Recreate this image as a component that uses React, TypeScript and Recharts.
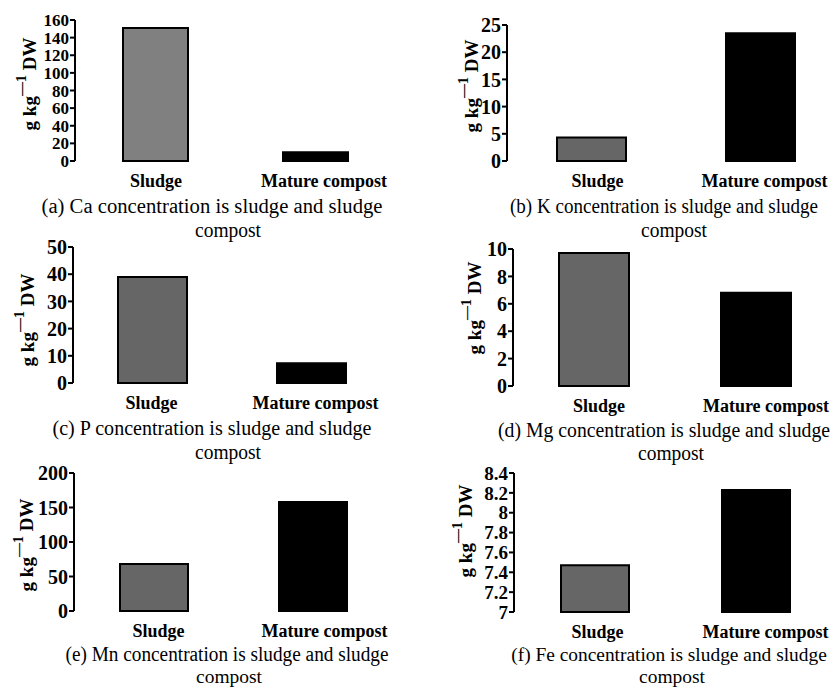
import React from 'react';
import { BarChart, Bar, XAxis, YAxis, Cell } from 'recharts';

const categories = ['Sludge', 'Mature compost'];

const caValues = [151, 10];
const kValues = [4.3, 23.5];
const pValues = [39, 7.3];
const mgValues = [9.7, 6.8];
const mnValues = [68, 158];
const feValues = [7.47, 8.23];

const caTicks = [0, 20, 40, 60, 80, 100, 120, 140, 160];
const kTicks = [0, 5, 10, 15, 20, 25];
const pTicks = [0, 10, 20, 30, 40, 50];
const mgTicks = [0, 2, 4, 6, 8, 10];
const mnTicks = [0, 50, 100, 150, 200];
const feTicks = [7, 7.2, 7.4, 7.6, 7.8, 8, 8.2, 8.4];

const captionsLine1 = [
  '(a) Ca concentration is sludge and sludge',
  '(b) K concentration is sludge and sludge',
  '(c) P concentration is sludge and sludge',
  '(d) Mg concentration is sludge and sludge',
  '(e) Mn concentration is sludge and sludge',
  '(f) Fe concentration is sludge and sludge',
];
const captionLine2 = 'compost';

const FONT = '"Liberation Serif", "Times New Roman", serif';

type Cfg = {
  left: number; top: number; width: number; height: number;
  margin: { top: number; right: number; left: number; bottom: number };
  yWidth: number; catHeight: number; barSize: number; sludgeFill: string; tickFont: number;
  labelDx: number[];
  labelX: number; labelY: number;
  c1x: number; c1y: number; c1w?: number; c1f: number; c2x: number; c2y: number; c2f: number;
};

const layouts: Cfg[] = [
  { left: 0, top: 0, width: 420, height: 200, margin: { top: 20, right: 25, left: 0, bottom: 0 }, yWidth: 75, catHeight: 39, barSize: 65, sludgeFill: '#808080', tickFont: 17, labelDx: [1, 9], labelX: 29, labelY: 84, c1x: 212, c1y: 213, c1w: 341, c1f: 20, c2x: 228, c2y: 237, c2f: 20 },
  { left: 420, top: 0, width: 415, height: 200, margin: { top: 25, right: -10, left: 0, bottom: 0 }, yWidth: 87, catHeight: 39, barSize: 69, sludgeFill: '#666666', tickFont: 20, labelDx: [6, 4], labelX: 471, labelY: 86, c1x: 664, c1y: 213, c1w: 308, c1f: 20, c2x: 674, c2y: 237, c2f: 20 },
  { left: 0, top: 220, width: 420, height: 200, margin: { top: 27, right: 29, left: 0, bottom: 0 }, yWidth: 73, catHeight: 37, barSize: 69, sludgeFill: '#666666', tickFont: 20, labelDx: [-1, 4], labelX: 27, labelY: 320, c1x: 212, c1y: 435, c1w: 319, c1f: 20, c2x: 228, c2y: 459, c2f: 20 },
  { left: 420, top: 220, width: 415, height: 200, margin: { top: 29, right: -2, left: 0, bottom: 0 }, yWidth: 93, catHeight: 34, barSize: 70, sludgeFill: '#666666', tickFont: 20, labelDx: [5, 10], labelX: 474, labelY: 308, c1x: 664, c1y: 437, c1w: 332, c1f: 20, c2x: 671, c2y: 460, c2f: 20 },
  { left: 0, top: 450, width: 420, height: 200, margin: { top: 23, right: 28, left: 0, bottom: 0 }, yWidth: 74, catHeight: 39, barSize: 68, sludgeFill: '#666666', tickFont: 20, labelDx: [5, 12], labelX: 26, labelY: 545, c1x: 227, c1y: 661, c1w: 323, c1f: 20, c2x: 229, c2y: 683, c2f: 18 },
  { left: 420, top: 450, width: 415, height: 200, margin: { top: 23, right: -1, left: 0, bottom: 0 }, yWidth: 94, catHeight: 38, barSize: 68, sludgeFill: '#666666', tickFont: 19, labelDx: [3, 10], labelX: 465, labelY: 531, c1x: 669, c1y: 661, c1f: 19.4, c2x: 672, c2y: 683, c2f: 18 },
];

const seriesList = [caValues, kValues, pValues, mgValues, mnValues, feValues];
const tickList = [caTicks, kTicks, pTicks, mgTicks, mnTicks, feTicks];

const YLabel = (props: any) => {
  const { cx, cy } = props;
  return (
    <text
      x={cx}
      y={cy}
      transform={`rotate(-90, ${cx}, ${cy})`}
      textAnchor="middle"
      dominantBaseline="central"
      fontFamily={FONT}
      fontWeight="bold"
      fontSize={19}
      fill="#000"
    >
      <tspan>g kg</tspan>
      <tspan dy={-8} fontSize={14}>—1</tspan>
      <tspan dy={8}> DW</tspan>
    </text>
  );
};

const CatTick = (props: any) => {
  const { x, y, payload, index, offsets } = props;
  return (
    <text
      x={x + (offsets[index] || 0)}
      y={y}
      dy="0.71em"
      textAnchor="middle"
      fontFamily={FONT}
      fontWeight="bold"
      fontSize={18}
      fill="#000"
    >
      {payload.value}
    </text>
  );
};

const Panel = ({ cfg, values, ticks }: { cfg: Cfg; values: number[]; ticks: number[] }) => {
  const data = categories.map((c, i) => ({ name: c, value: values[i] }));
  const domain = [ticks[0], ticks[ticks.length - 1]];
  return (
    <div style={{ position: 'absolute', left: cfg.left, top: cfg.top, width: cfg.width, height: cfg.height }}>
      <BarChart width={cfg.width} height={cfg.height} data={data} margin={cfg.margin} barCategoryGap={0}>
        <XAxis
          xAxisId={0}
          type="number"
          domain={[0, 2]}
          ticks={[0, 1, 2]}
          allowDataOverflow
          height={0}
          tick={false}
          tickSize={7}
          axisLine={{ stroke: '#000', strokeWidth: 2 }}
          tickLine={{ stroke: '#000', strokeWidth: 2 }}
        />
        <XAxis
          xAxisId="cat"
          dataKey="name"
          type="category"
          height={cfg.catHeight}
          axisLine={false}
          tickLine={false}
          tickMargin={7}
          interval={0}
          tick={<CatTick offsets={cfg.labelDx} />}
        />
        <YAxis
          type="number"
          domain={domain}
          ticks={ticks}
          interval={0}
          width={cfg.yWidth}
          tickSize={5}
          tickMargin={1}
          axisLine={{ stroke: '#000', strokeWidth: 2 }}
          tickLine={{ stroke: '#000', strokeWidth: 2 }}
          tick={{ fill: '#000', fontSize: cfg.tickFont, fontWeight: 'bold', fontFamily: FONT }}
          label={<YLabel cx={cfg.labelX - cfg.left} cy={cfg.labelY - cfg.top} />}
        />
        <Bar xAxisId="cat" dataKey="value" barSize={cfg.barSize} stroke="#000" strokeWidth={2} isAnimationActive={false}>
          {data.map((d, i) => (
            <Cell key={d.name} fill={i === 0 ? cfg.sludgeFill : '#000000'} />
          ))}
        </Bar>
      </BarChart>
    </div>
  );
};

export default function App() {
  return (
    <div style={{ position: 'absolute', left: 0, top: 0, width: 835, height: 687, overflow: 'hidden', background: '#fff' }}>
      {layouts.map((cfg, i) => (
        <Panel key={i} cfg={cfg} values={seriesList[i]} ticks={tickList[i]} />
      ))}
      <svg width={835} height={687} style={{ position: 'absolute', left: 0, top: 0, pointerEvents: 'none' }}>
        {layouts.map((cfg, i) => (
          <g key={i} fontFamily={FONT} fill="#000" textAnchor="middle">
            {cfg.c1w ? (
              <text x={cfg.c1x} y={cfg.c1y} fontSize={cfg.c1f} textLength={cfg.c1w} lengthAdjust="spacingAndGlyphs">{captionsLine1[i]}</text>
            ) : (
              <text x={cfg.c1x} y={cfg.c1y} fontSize={cfg.c1f}>{captionsLine1[i]}</text>
            )}
            <text x={cfg.c2x} y={cfg.c2y} fontSize={cfg.c2f} textLength={66} lengthAdjust="spacingAndGlyphs">{captionLine2}</text>
          </g>
        ))}
      </svg>
    </div>
  );
}
